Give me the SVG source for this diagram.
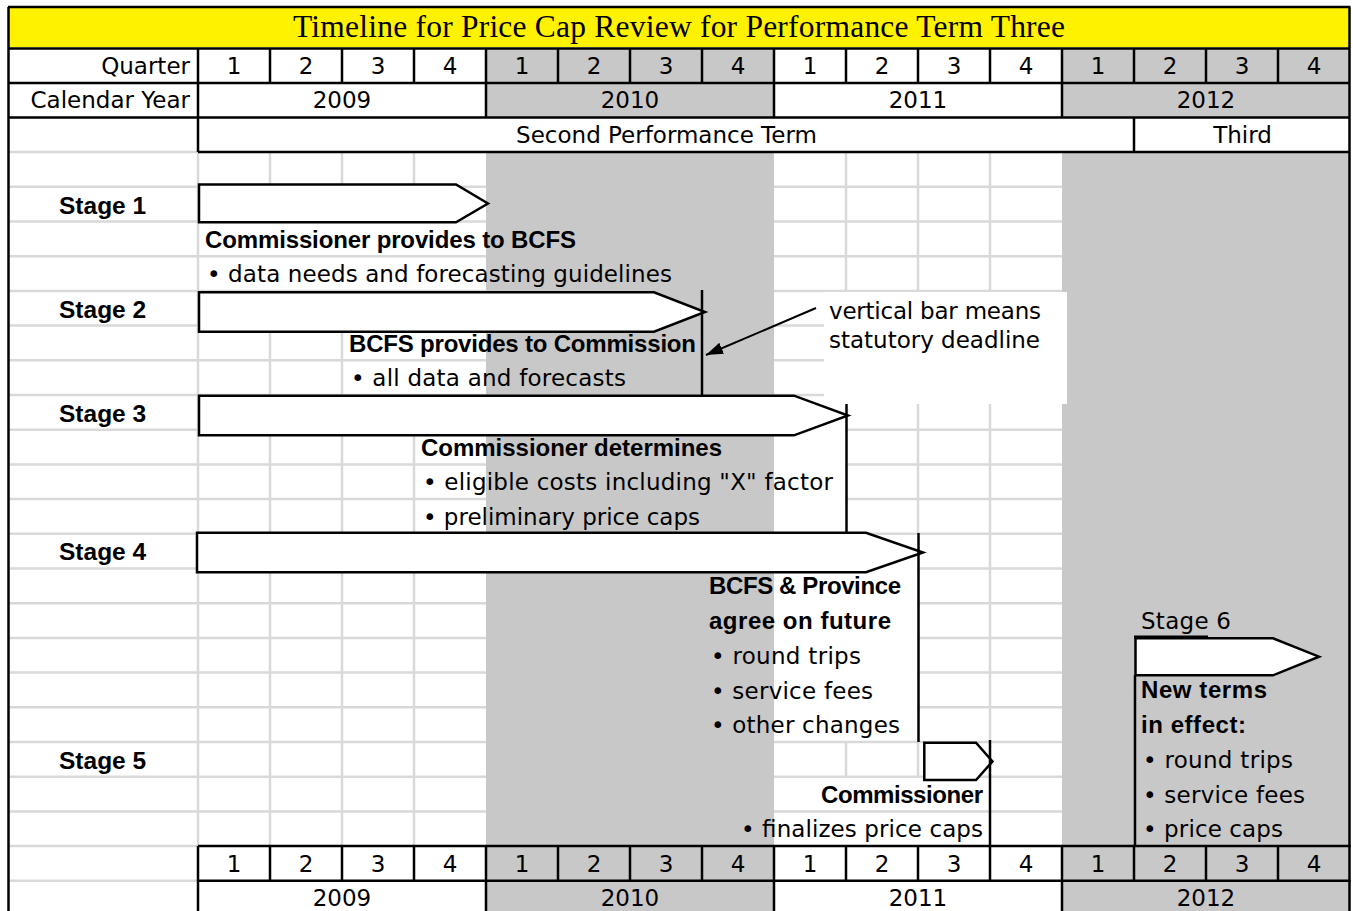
<svg xmlns="http://www.w3.org/2000/svg" width="1353" height="911" viewBox="0 0 1353 911">
<defs>
<style>
.grid{stroke:#d9d9d9;stroke-width:2.5;fill:none}
.blk{stroke:#000;stroke-width:2.5;fill:none}
.arr{fill:#fff;stroke:#000;stroke-width:2.5;stroke-linejoin:miter}
.bar{stroke:#000;stroke-width:2.5}
.t{font-family:"DejaVu Sans","Liberation Sans",sans-serif;font-size:23px;fill:#000}
.b{font-family:"Liberation Sans",Arial,sans-serif;font-weight:bold;font-size:24px;fill:#000}
.st{font-family:"Liberation Sans",Arial,sans-serif;font-weight:bold;font-size:24.5px;fill:#000}
.ttl{font-family:"Liberation Serif","Times New Roman",serif;font-size:31.5px;fill:#000}
.c{text-anchor:middle}
.e{text-anchor:end}
.g{fill:#c8c8c8}
</style>
<marker id="ah" markerUnits="userSpaceOnUse" markerWidth="18" markerHeight="14" refX="17" refY="7" orient="auto">
<path d="M0,1 L17,7 L0,13 z" fill="#000"/>
</marker>
</defs>
<rect x="0" y="0" width="1353" height="911" fill="#fff"/>

<g id="background">
<rect class="g" x="486" y="49" width="288" height="68.5"/>
<rect class="g" x="1062" y="49" width="287.5" height="68.5"/>
<rect class="g" x="486" y="152" width="288" height="759"/>
<rect class="g" x="1062" y="152" width="287.5" height="759"/>
<rect x="9" y="8" width="1340.5" height="39" fill="#fff200"/>
</g>

<g id="gridlines">
<path class="grid" d="M9,152.1H198M9,186.8H198M9,221.5H198M9,256.2H198M9,290.9H198M9,325.6H198M9,360.3H198M9,395H198M9,429.7H198M9,464.4H198M9,499.1H198M9,533.8H198M9,568.5H198M9,603.2H198M9,637.9H198M9,672.6H198M9,707.3H198M9,742H198M9,776.7H198M9,811.4H198M9,846.1H198M9,880.8H198"/>
<path class="grid" d="M198,186.8H486M198,221.5H486M198,256.2H486M198,290.9H486M198,325.6H486M198,360.3H486M198,395H486M198,429.7H486M198,464.4H486M198,499.1H486M198,533.8H486M198,568.5H486M198,603.2H486M198,637.9H486M198,672.6H486M198,707.3H486M198,742H486M198,776.7H486M198,811.4H486"/>
<path class="grid" d="M198,152.1V846.1M270,152.1V221.5M270,290.9V846.1M342,152.1V221.5M342,290.9V846.1M414,152.1V221.5M414,395V846.1"/>
<path class="grid" d="M774,186.8H1062M774,221.5H1062M774,256.2H1062M774,290.9H1062M774,325.6H1062M774,360.3H1062M774,395H1062M846,429.7H1062M846,464.4H1062M846,499.1H1062M846,533.8H1062M918,568.5H1062M918,603.2H1062M918,637.9H1062M918,672.6H1062M918,707.3H1062M774,742H1062M774,776.7H1062M774,811.4H1062"/>
<path class="grid" d="M846,152.1V292M846,742V776.7M918,152.1V292M918,404V533.8M918,742V776.7M990,152.1V292M990,404V742"/>
</g>

<g id="callout">
<rect x="824" y="292" width="243" height="112" fill="#fff"/>
<text class="t" x="829" y="319" textLength="212">vertical bar means</text>
<text class="t" x="829" y="348" textLength="211">statutory deadline</text>
</g>

<g id="frame">
<path class="blk" d="M8.5,7V911M1349.5,7V911M8,7H1350.5M8,48.5H1350.5M8,83H1350.5M8,117.5H1350.5M198,152H1350.5"/>
<path class="blk" d="M198,48.5V152M270,48.5V83M342,48.5V83M414,48.5V83M486,48.5V117.5M558,48.5V83M630,48.5V83M702,48.5V83M774,48.5V117.5M846,48.5V83M918,48.5V83M990,48.5V83M1062,48.5V117.5M1134,48.5V83M1206,48.5V83M1278,48.5V83M1134,117.5V152"/>
<path class="blk" d="M198,846.1H1350.5M198,880.8H1350.5M198,846.1V911M270,846.1V880.8M342,846.1V880.8M414,846.1V880.8M486,846.1V911M558,846.1V880.8M630,846.1V880.8M702,846.1V880.8M774,846.1V911M846,846.1V880.8M918,846.1V880.8M990,846.1V880.8M1062,846.1V911M1134,846.1V880.8M1206,846.1V880.8M1278,846.1V880.8"/>
</g>

<g id="title">
<text class="ttl c" x="679" y="37" textLength="772">Timeline for Price Cap Review for Performance Term Three</text>
</g>

<g id="header">
<text class="t e" x="190" y="74">Quarter</text>
<text class="t e" x="190" y="108">Calendar Year</text>
<g class="t c">
<text x="234" y="74">1</text><text x="306" y="74">2</text><text x="378" y="74">3</text><text x="450" y="74">4</text>
<text x="522" y="74">1</text><text x="594" y="74">2</text><text x="666" y="74">3</text><text x="738" y="74">4</text>
<text x="810" y="74">1</text><text x="882" y="74">2</text><text x="954" y="74">3</text><text x="1026" y="74">4</text>
<text x="1098" y="74">1</text><text x="1170" y="74">2</text><text x="1242" y="74">3</text><text x="1314" y="74">4</text>
<text x="342" y="108">2009</text><text x="630" y="108">2010</text><text x="918" y="108">2011</text><text x="1206" y="108">2012</text>
<text x="666.5" y="143">Second Performance Term</text>
<text x="1242.5" y="143">Third</text>
</g>
</g>

<g id="footer">
<g class="t c">
<text x="234" y="872">1</text><text x="306" y="872">2</text><text x="378" y="872">3</text><text x="450" y="872">4</text>
<text x="522" y="872">1</text><text x="594" y="872">2</text><text x="666" y="872">3</text><text x="738" y="872">4</text>
<text x="810" y="872">1</text><text x="882" y="872">2</text><text x="954" y="872">3</text><text x="1026" y="872">4</text>
<text x="1098" y="872">1</text><text x="1170" y="872">2</text><text x="1242" y="872">3</text><text x="1314" y="872">4</text>
<text x="342" y="906">2009</text><text x="630" y="906">2010</text><text x="918" y="906">2011</text><text x="1206" y="906">2012</text>
</g>
</g>

<g id="stage1">
<text class="st" x="59" y="213.5">Stage 1</text>
<path class="arr" d="M199,184.5H456L488,203.5L456,222.3H199Z"/>
<text class="b" x="205" y="247.5" textLength="371">Commissioner provides to BCFS</text>
<text class="t" x="207" y="282" textLength="465">• data needs and forecasting guidelines</text>
</g>

<g id="stage2">
<text class="st" x="59" y="317.5">Stage 2</text>
<path class="arr" d="M199,292.3H654L705,312L654,331.7H199Z"/>
<text class="b" x="349" y="351.5" textLength="347">BCFS provides to Commission</text>
<text class="t" x="351" y="386.3" textLength="275">• all data and forecasts</text>
</g>

<g id="stage3">
<text class="st" x="59" y="421.5">Stage 3</text>
<path class="arr" d="M199,395.7H794L848,415.5L794,435.3H199Z"/>
<text class="b" x="421" y="455.5" textLength="301">Commissioner determines</text>
<text class="t" x="423" y="490.4" textLength="410">• eligible costs including "X" factor</text>
<text class="t" x="423" y="525" textLength="277">• preliminary price caps</text>
</g>

<g id="stage4">
<text class="st" x="59" y="560.3">Stage 4</text>
<path class="arr" d="M197,532.7H866L923,552.5L866,572.3H197Z"/>
<text class="b" x="709" y="594.3" textLength="192">BCFS &amp; Province</text>
<text class="b" x="709" y="629" textLength="182">agree on future</text>
<text class="t" x="711" y="664" textLength="150">• round trips</text>
<text class="t" x="711" y="698.6" textLength="162">• service fees</text>
<text class="t" x="711" y="733.3" textLength="189">• other changes</text>
</g>

<g id="stage5">
<text class="st" x="59" y="768.5">Stage 5</text>
<path class="arr" d="M924.3,742.7H976L992.5,761.5L976,780H924.3Z"/>
<text class="b e" x="983" y="802.5" textLength="162">Commissioner</text>
<text class="t e" x="983" y="837.4" textLength="242">• finalizes price caps</text>
</g>

<g id="stage6">
<text class="t" x="1141" y="629.2" textLength="90">Stage 6</text>
<path class="arr" d="M1135.5,638.3H1273L1319,656.7L1273,675.3H1135.5Z"/>
<path class="blk" d="M1134,637H1208" style="stroke-width:3"/>
<path class="blk" d="M1135,675V846"/>
<text class="b" x="1141" y="698.4" textLength="126">New terms</text>
<text class="b" x="1141" y="733.1" textLength="105">in effect:</text>
<text class="t" x="1143" y="768" textLength="150">• round trips</text>
<text class="t" x="1143" y="802.7" textLength="162">• service fees</text>
<text class="t" x="1143" y="837.4" textLength="140">• price caps</text>
</g>

<g id="connectors">
<path class="bar" d="M702,290V395"/>
<path class="bar" d="M846.5,404V533"/>
<path class="bar" d="M918.5,533V742"/>
<path class="bar" d="M990,740V846"/>
<line x1="816" y1="308" x2="706" y2="355" stroke="#000" stroke-width="2" marker-end="url(#ah)"/>
</g>
</svg>
